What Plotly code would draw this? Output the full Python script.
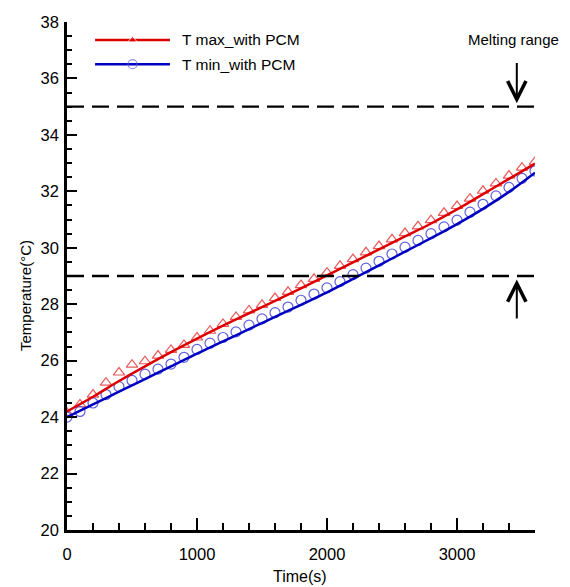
import plotly.graph_objects as go

# ---- data ----
time_line = [0, 200, 400, 600, 800, 1000, 1200, 1400, 1600, 1800, 2000,
             2200, 2400, 2600, 2800, 3000, 3200, 3400, 3600]
tmax_line = [24.20, 24.72, 25.28, 25.80, 26.30, 26.78, 27.24, 27.68, 28.12, 28.56, 29.02,
             29.48, 29.94, 30.40, 30.86, 31.36, 31.90, 32.44, 32.98]
tmin_line = [24.00, 24.45, 24.90, 25.35, 25.80, 26.25, 26.68, 27.12, 27.55, 27.98, 28.42,
             28.90, 29.38, 29.86, 30.34, 30.84, 31.38, 31.98, 32.66]

time_pts = [0, 100, 200, 300, 400, 500, 600, 700, 800, 900, 1000, 1100, 1200, 1300,
            1400, 1500, 1600, 1700, 1800, 1900, 2000, 2100, 2200, 2300, 2400, 2500,
            2600, 2700, 2800, 2900, 3000, 3100, 3200, 3300, 3400, 3500, 3600]
tmax_pts = [24.15, 24.45, 24.80, 25.22, 25.58, 25.86, 25.98, 26.18, 26.38, 26.56, 26.82,
            27.06, 27.30, 27.55, 27.78, 27.98, 28.22, 28.44, 28.68, 28.90, 29.12, 29.36,
            29.60, 29.84, 30.06, 30.30, 30.52, 30.76, 30.98, 31.24, 31.48, 31.74, 32.02,
            32.28, 32.56, 32.84, 33.04]
tmin_pts = [24.00, 24.20, 24.50, 24.80, 25.08, 25.30, 25.52, 25.70, 25.88, 26.12, 26.40,
            26.62, 26.82, 27.02, 27.26, 27.48, 27.70, 27.90, 28.14, 28.36, 28.58, 28.80,
            29.05, 29.28, 29.52, 29.78, 30.02, 30.26, 30.50, 30.74, 30.98, 31.26, 31.54,
            31.84, 32.14, 32.46, 32.72]

melt_low, melt_high = 29, 35
series_names = ["T max_with PCM", "T min_with PCM"]

FONT = "Liberation Sans, Arial, sans-serif"
RED_LINE, RED_MK = "#dd0000", "#e85a5a"
BLUE_LINE, BLUE_MK = "#0000c0", "#6060dc"

fig = go.Figure()

fig.add_trace(go.Scatter(x=time_pts, y=tmax_pts, mode="markers", showlegend=False,
                         marker=dict(symbol="triangle-up-open", size=10,
                                     color=RED_MK, line=dict(width=1.2, color=RED_MK))))
fig.add_trace(go.Scatter(x=time_pts, y=tmin_pts, mode="markers", showlegend=False,
                         marker=dict(symbol="circle-open", size=10,
                                     color=BLUE_MK, line=dict(width=1.2, color=BLUE_MK))))
fig.add_trace(go.Scatter(x=time_line, y=tmax_line, mode="lines", showlegend=False,
                         line=dict(color=RED_LINE, width=2.5, shape="spline")))
fig.add_trace(go.Scatter(x=time_line, y=tmin_line, mode="lines", showlegend=False,
                         line=dict(color=BLUE_LINE, width=2.5, shape="spline")))

# ---- manual legend on helper axes (0..1 over plot area) ----
leg_x = [0.060, 0.140, 0.220]
leg_y_red, leg_y_blue = 0.9646, 0.917
fig.add_trace(go.Scatter(x=leg_x, y=[leg_y_red] * 3, xaxis="x2", yaxis="y2", mode="lines+markers",
                         showlegend=False, line=dict(color=RED_LINE, width=2.5),
                         marker=dict(symbol="triangle-up", size=[0, 8, 0], color=RED_LINE)))
fig.add_trace(go.Scatter(x=leg_x, y=[leg_y_blue] * 3, xaxis="x2", yaxis="y2", mode="lines+markers",
                         showlegend=False, line=dict(color=BLUE_LINE, width=2.5),
                         marker=dict(symbol="circle-open", size=[0, 9, 0], color=BLUE_MK,
                                     line=dict(width=1.2, color=BLUE_MK))))
for name, yy in zip(series_names, [leg_y_red, leg_y_blue]):
    fig.add_annotation(x=0.2415, y=yy, xref="paper", yref="paper", text=name, showarrow=False,
                       xanchor="left", yanchor="middle", font=dict(family=FONT, size=15.5, color="black"))

# ---- melting range lines ----
for lvl in (melt_low, melt_high):
    fig.add_shape(type="line", x0=0, x1=3600, y0=lvl, y1=lvl, xref="x", yref="y",
                  line=dict(color="black", width=2.4, dash="17px,8px"))

for head, tail in ((35.12, 36.6), (28.88, 27.44)):
    fig.add_annotation(x=3460, y=head, ax=3460, ay=tail, xref="x", yref="y", axref="x", ayref="y",
                       text="", showarrow=True, arrowhead=5, arrowsize=1.8, arrowwidth=2,
                       arrowcolor="black", standoff=0)
fig.add_annotation(x=0.953, y=0.9646, xref="paper", yref="paper", text="Melting range",
                   showarrow=False, xanchor="center", yanchor="middle",
                   font=dict(family=FONT, size=15, color="black"))

# ---- axis titles ----
fig.add_annotation(x=0.498, y=-0.0925, xref="paper", yref="paper", text="Time(s)",
                   showarrow=False, xanchor="center", yanchor="middle",
                   font=dict(family=FONT, size=16, color="black"))
fig.add_annotation(x=-0.0897, y=0.4606, xref="paper", yref="paper", text="Temperature(°C)",
                   showarrow=False, textangle=-90, xanchor="center", yanchor="middle",
                   font=dict(family=FONT, size=15, color="black"))

fig.update_layout(
    width=570, height=587,
    margin=dict(l=67, r=35, t=22, b=57),
    plot_bgcolor="white", paper_bgcolor="white",
    font=dict(family=FONT, size=16, color="black"),
    xaxis=dict(range=[0, 3600], dtick=1000, tick0=0, showgrid=False, zeroline=False,
               showline=True, linecolor="black", linewidth=2.5,
               ticks="inside", ticklen=12, tickwidth=2, tickcolor="black",
               minor=dict(dtick=200, ticks="inside", ticklen=7, tickwidth=1.5, tickcolor="black"),
               ticklabelstandoff=7, tickfont=dict(size=16.5)),
    yaxis=dict(range=[20, 38], dtick=2, tick0=20, showgrid=False, zeroline=False,
               showline=True, linecolor="black", linewidth=2.5,
               ticks="inside", ticklen=10, tickwidth=2, tickcolor="black",
               minor=dict(dtick=0.5, ticks="inside", ticklen=5, tickwidth=1.5, tickcolor="black"),
               ticklabelstandoff=2, tickfont=dict(size=16.5)),
    xaxis2=dict(range=[0, 1], overlaying="x", visible=False, fixedrange=True),
    yaxis2=dict(range=[0, 1], overlaying="y", visible=False, fixedrange=True),
)

fig.write_html("out.html")
